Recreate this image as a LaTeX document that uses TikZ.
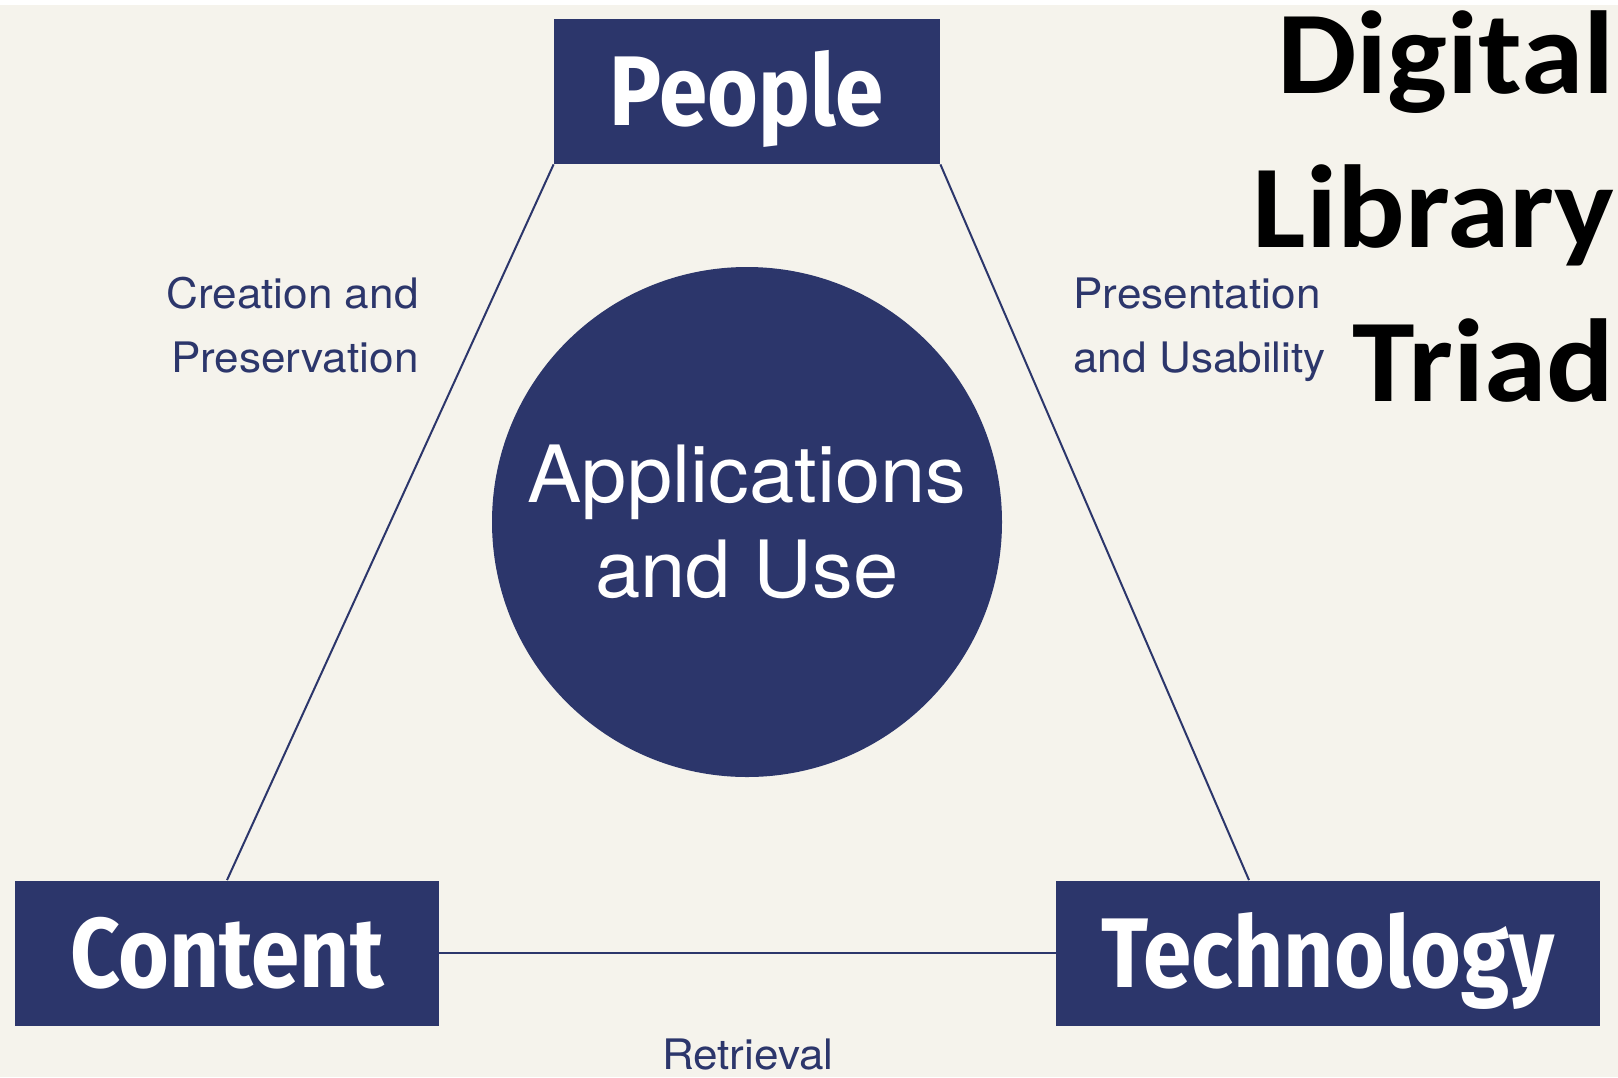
\documentclass[tikz,border=0pt]{standalone}
\usepackage{fontspec}
\usepackage{xcolor}
\usetikzlibrary{positioning}
\setmainfont{TeX Gyre Heros}
\newfontfamily\boxfont{Fira Sans}[FakeStretch=0.88]
\newfontfamily\titlefont{Carlito}[FakeStretch=1.07]
\newfontfamily\sidefont{TeX Gyre Heros}[FakeStretch=1.05]
\newfontfamily\circfont{TeX Gyre Heros}[FakeStretch=1.03]

\definecolor{navy}{HTML}{2C366B}
\definecolor{cream}{HTML}{F5F3EC}

\begin{document}
\begin{tikzpicture}[x=0.5pt, y=-0.5pt,
    box/.style={fill=navy, inner sep=0pt, minimum height=72.5pt, text=white,
                text height=34pt, text depth=0pt,
                font=\boxfont\bfseries\fontsize{49.5}{50}\selectfont},
    link/.style={draw=navy, line width=1pt},
    side/.style={text=navy, inner sep=0pt, font=\sidefont\fontsize{21}{32}\selectfont}]

      \useasboundingbox (0,0) rectangle (1618,1077);
      \fill[white] (0,0) rectangle (1618,5);
      \fill[cream] (0,5) rectangle (1618,1077);

      % the three corners
      \node[box, minimum width=193pt] (people) at (747,91.5) {People};
      \node[box, minimum width=212pt] (content) at (227,953) {Content};
      \node[box, minimum width=272pt] (tech) at (1328,953) {Technology};

      \node[circle, fill=navy, minimum size=255pt, inner sep=0pt, text=white,
            align=center, font=\circfont\fontsize{39.5}{47.5}\selectfont] (apps) at (747,522)
            {Applications\\and Use};

      \draw[link] (people.south west) -- (content.north);
      \draw[link] (people.south east) -- ([xshift=-39.5pt]tech.north);
      \draw[link] (content.east) -- (tech.west);

      \node[side, align=right, anchor=east] (create) at (419,325) {Creation and\\Preservation};
      \node[side, align=left, anchor=west] (present) at (1073,330) {Presentation\\and Usability};
      \node[side, anchor=base] (retrieve) at (748,1069) {Retrieval};

      \node[anchor=north east, align=right, inner sep=0pt,
            font=\titlefont\bfseries\fontsize{59}{77}\selectfont] (title) at (1615,10)
            {Digital\\Library\\Triad};
    \end{tikzpicture}
\end{document}
